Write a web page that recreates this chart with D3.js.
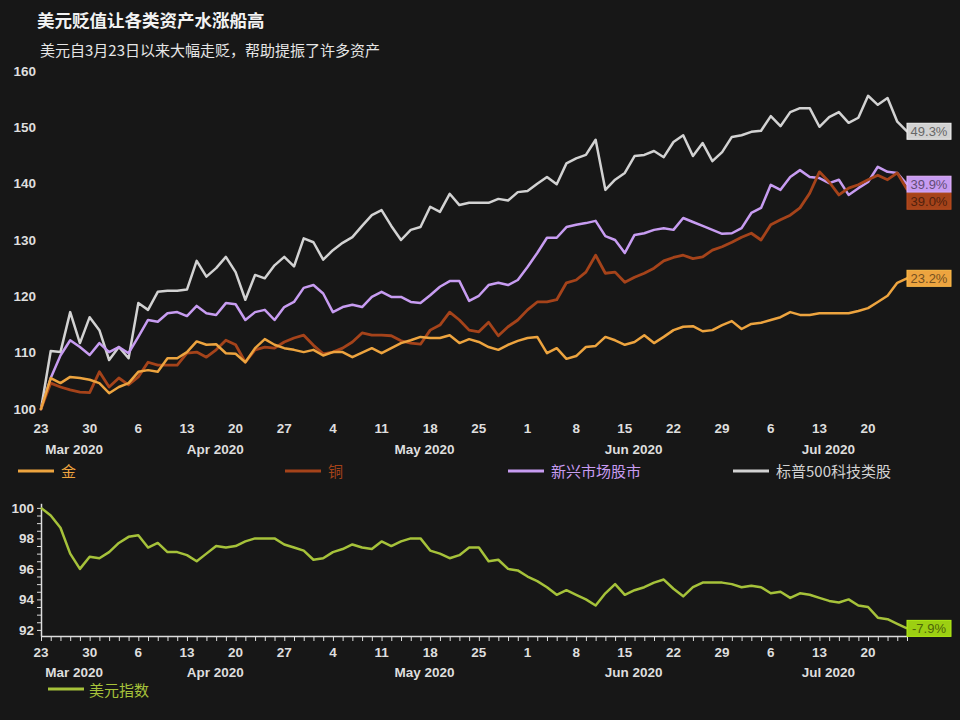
<!DOCTYPE html>
<html><head><meta charset="utf-8">
<script src="https://cdn.jsdelivr.net/npm/d3@7"></script>
<style>body{margin:0;background:#171717;} svg{display:block}</style>
</head><body>
<svg id="c" width="960" height="720"></svg>
<script>
// ---------- data ----------
const firstDay = new Date(2020, 2, 23);
const lastDay = new Date(2020, 6, 24);
const seriesNames = ["金", "铜", "新兴市场股市", "标普500科技类股"];
const dollarName = "美元指数";
const topTicks = [100, 110, 120, 130, 140, 150, 160];
const bottomTicks = [92, 94, 96, 98, 100];
const monthNames = ["Mar 2020", "Apr 2020", "May 2020", "Jun 2020", "Jul 2020"];

const gold = [100,105.5,104.6,105.7,105.5,105.2,104.6,102.8,103.9,104.6,
106.6,106.9,106.6,109,109,110.1,112,111.4,111.5,109.9,
109.8,108.3,110.8,112.4,111.4,110.8,110.5,110.1,110.5,109.5,
110.1,110.1,109.2,110,110.8,109.9,110.8,111.7,112.2,112.8,
112.6,112.6,113.1,111.7,112.4,111.9,111,110.5,111.4,112.1,
112.6,112.8,109.9,110.8,108.9,109.4,111,111.2,112.8,112.2,
111.4,111.9,113.1,111.7,112.8,114,114.6,114.7,113.8,114,
114.9,115.6,114.2,115.1,115.3,115.8,116.3,117.2,116.7,116.7,
117,117,117,117,117.4,117.9,119,120.1,122.4,123.2];

const copper = [100,104.6,103.9,103.4,103,102.9,106.6,103.9,105.5,104.3,
105.7,108.3,107.8,107.8,107.8,109.9,110.1,109.2,110.5,112.2,
111.4,108.3,110.5,111,110.8,111.9,112.6,113.1,111.3,109.8,
110.1,110.8,111.9,113.5,113.1,113.1,113,112.1,111.7,111.5,
114,114.9,117.2,115.8,114,113.7,115.4,113,114.6,115.8,
117.6,119,119,119.4,122.4,122.9,124.3,127.3,124.1,124.3,
122.5,123.4,124.1,125,126.3,126.9,127.3,126.7,127,128.2,
128.8,129.6,130.5,131.2,130,132.7,133.6,134.4,135.7,138.3,
142.1,140.3,138,139.2,139.8,140.7,141.5,140.7,141.9,139];

const emStocks = [100,105.5,109.5,112.2,111,109.6,111.7,110.1,111,109.9,
112.8,115.8,115.5,117,117.2,116.5,118.3,117,116.7,118.8,
118.6,115.8,117.2,117.6,115.8,118.1,119,121.5,122,120.5,
117.2,118.1,118.5,118.1,119.9,120.8,119.9,119.9,119,118.8,
120.2,121.7,122.7,122.7,119.2,120.1,122,122.4,122,122.9,
125.2,127.7,130.4,130.4,132.3,132.7,133,133.4,130.7,130,
127.7,130.9,131.2,131.8,132.1,131.8,133.9,133.2,132.5,131.8,
131.1,131.2,132.1,134.8,135.7,139.8,138.9,141.2,142.4,141.2,
141,140.1,140.7,138,139.2,140.3,143,142.1,141.9,139.9];

const techStocks = [100,110.3,110.1,117.2,111.7,116.3,114,108.7,111,109,
118.8,117.6,120.8,121,121,121.2,126.3,123.5,125,127,
124.3,119.4,123.8,123.2,125.5,127,125.3,130.3,129.6,126.5,
128.2,129.5,130.5,132.5,134.4,135.3,132.5,130,131.8,132.3,
135.9,135,138.2,136.2,136.6,136.6,136.6,137.3,137,138.5,
138.7,140,141.2,139.9,143.6,144.5,145.1,147.8,138.9,140.7,
141.9,144.9,145.1,145.8,144.7,147.4,148.6,144.9,147.2,144,
145.6,148.3,148.6,149.2,149.4,152,150.2,152.7,153.4,153.4,
150.1,151.8,152.7,150.8,151.7,155.6,154,155.2,151,149.3];

const dollarIndex = [100,99.5,98.7,97,96,96.8,96.7,97.1,97.7,98.1,
98.2,97.4,97.7,97.1,97.1,96.9,96.5,97,97.5,97.4,
97.5,97.8,98,98,98,97.6,97.4,97.2,96.6,96.7,
97.1,97.3,97.6,97.4,97.3,97.8,97.5,97.8,98,98,
97.2,97,96.7,96.9,97.4,97.4,96.5,96.6,96,95.9,
95.5,95.2,94.8,94.3,94.6,94.3,94,93.6,94.4,95,
94.3,94.6,94.8,95.1,95.3,94.7,94.2,94.8,95.1,95.1,
95.1,95,94.8,94.9,94.8,94.4,94.5,94.1,94.4,94.3,
94.1,93.9,93.8,94,93.6,93.5,92.8,92.7,92.4,92.1];

// ---------- setup ----------
const colors = ["#eda43f", "#a5431a", "#c79cf1", "#d2d2d2"];
const dollarColor = "#a6c23a";
const seriesData = [gold, copper, emStocks, techStocks];

const dates = d3.timeDay.range(firstDay, d3.timeDay.offset(lastDay, 1)).filter(d => d.getDay() % 6 !== 0);

const svg = d3.select("#c");
svg.append("rect").attr("width", 960).attr("height", 720).attr("fill", "#171717");

const FONT = "'Liberation Sans', Arial, sans-serif";
const CJK = "'Noto Sans CJK SC', 'Noto Sans', sans-serif";
const AX = "#dedede";

svg.append("text").attr("x", 37).attr("y", 27).attr("fill", "#f2f2f2")
  .attr("font-family", CJK).attr("font-weight", "bold").attr("font-size", 17.5)
  .text("美元贬值让各类资产水涨船高");
svg.append("text").attr("x", 40).attr("y", 56).attr("fill", "#e6e6e6")
  .attr("font-family", CJK).attr("font-size", 15)
  .text("美元自3月23日以来大幅走贬，帮助提振了许多资产");

const x = d3.scaleLinear().domain([0, dates.length - 1]).range([41, 907]);
const yT = d3.scaleLinear().domain([100, 160]).range([409, 71]);
const yB = d3.scaleLinear().domain([91.6, 100.3]).range([636, 503.3]);

// ---------- top chart ----------
const gT = svg.append("g");
gT.selectAll("text.yl").data(topTicks).join("text")
  .attr("x", 36).attr("y", d => yT(d)).attr("dy", "0.35em").attr("text-anchor", "end")
  .attr("fill", AX).attr("font-family", FONT).attr("font-weight", "bold").attr("font-size", 13.5)
  .text(d => d);

function xLabels(g, yDay, yMonth) {
  const mondays = dates.map((d, i) => ({d, i})).filter(o => o.d.getDay() === 1);
  g.selectAll("text.dl").data(mondays).join("text")
    .attr("x", o => x(o.i)).attr("y", yDay).attr("text-anchor", "middle")
    .attr("fill", AX).attr("font-family", FONT).attr("font-weight", "bold").attr("font-size", 13.5)
    .text(o => o.d.getDate());
  const groups = d3.groups(dates.map((d, i) => ({d, i})), o => o.d.getMonth());
  g.selectAll("text.ml").data(groups).join("text")
    .attr("x", (gr) => (x(gr[1][0].i) + x(gr[1][gr[1].length - 1].i)) / 2 + 4)
    .attr("y", yMonth).attr("text-anchor", "middle")
    .attr("fill", AX).attr("font-family", FONT).attr("font-weight", "bold").attr("font-size", 13.5)
    .text((gr, k) => monthNames[k]);
}
xLabels(gT, 433, 454);

const lineT = d3.line().x((d, i) => x(i)).y(d => yT(d)).curve(d3.curveLinear);
const drawOrder = [3, 2, 1, 0];
drawOrder.forEach(k => {
  gT.append("path").datum(seriesData[k]).attr("d", lineT)
    .attr("fill", "none").attr("stroke", colors[k]).attr("stroke-width", k === 1 ? 2.8 : 2.5)
    .attr("stroke-linejoin", "round").attr("stroke-linecap", "round");
});

// end labels with collision avoidance
function endBox(g, val, yPos, color) {
  const txt = val.toFixed(1) + "%";
  const bx = g.append("g").attr("transform", `translate(907,${yPos})`);
  bx.append("rect").attr("x", 0).attr("y", -8).attr("width", 44).attr("height", 16)
    .attr("fill", color).attr("stroke", d3.color(color).brighter(0.4)).attr("stroke-width", 1);
  bx.append("text").attr("x", 22).attr("y", 0).attr("dy", "0.36em").attr("text-anchor", "middle")
    .attr("font-family", FONT).attr("font-size", 13).attr("fill", d3.color(color).darker(2))
    .text(txt);
}
const ends = seriesData.map((s, k) => ({k, v: s[s.length - 1] - s[0], y: yT(s[s.length - 1])}))
  .sort((a, b) => a.y - b.y);
for (let j = 1; j < ends.length; j++) {
  if (ends[j].y - ends[j - 1].y < 17) ends[j].y = ends[j - 1].y + 17;
}
ends.forEach(e => endBox(gT, e.v, e.y, colors[e.k]));

// top legend
const legX = [18, 285, 508, 733];
seriesNames.forEach((n, k) => {
  svg.append("line").attr("x1", legX[k]).attr("x2", legX[k] + 36).attr("y1", 471).attr("y2", 471)
    .attr("stroke", colors[k]).attr("stroke-width", 3);
  svg.append("text").attr("x", legX[k] + 43).attr("y", 477).attr("fill", colors[k])
    .attr("font-family", CJK).attr("font-size", 15).text(n);
});

// ---------- bottom chart ----------
const gB = svg.append("g");
const yAxis = d3.axisLeft(yB).tickValues(d3.range(92, 100.01, 0.5))
  .tickFormat(d => (d % 2 === 0 ? d : "")).tickSize(4).tickSizeOuter(0).tickPadding(3);
const gy = gB.append("g").attr("transform", "translate(41,0)").call(yAxis);
gy.select(".domain").attr("stroke", AX).attr("stroke-width", 1.5);
gy.selectAll(".tick line").attr("stroke", AX);
gy.selectAll(".tick text").attr("fill", AX).attr("font-family", FONT).attr("font-weight", "bold").attr("font-size", 13.5);

const xAxis = d3.axisBottom(x).tickValues(d3.range(dates.length)).tickFormat("").tickSize(5).tickSizeOuter(0);
const gx = gB.append("g").attr("transform", "translate(0,636)").call(xAxis);
gx.select(".domain").attr("stroke", AX).attr("stroke-width", 1.5);
gx.selectAll(".tick line").attr("stroke", AX);
xLabels(gB, 657, 677);

const lineB = d3.line().x((d, i) => x(i)).y(d => yB(d));
gB.append("path").datum(dollarIndex).attr("d", lineB).attr("fill", "none")
  .attr("stroke", dollarColor).attr("stroke-width", 2.5).attr("stroke-linejoin", "round");
endBox(gB, dollarIndex[dollarIndex.length - 1] - dollarIndex[0], yB(dollarIndex[dollarIndex.length - 1]), "#9ccf12");

svg.append("line").attr("x1", 48).attr("x2", 84).attr("y1", 689).attr("y2", 689)
  .attr("stroke", dollarColor).attr("stroke-width", 3);
svg.append("text").attr("x", 89).attr("y", 696).attr("fill", dollarColor)
  .attr("font-family", CJK).attr("font-size", 15).text(dollarName);
</script>
</body></html>
